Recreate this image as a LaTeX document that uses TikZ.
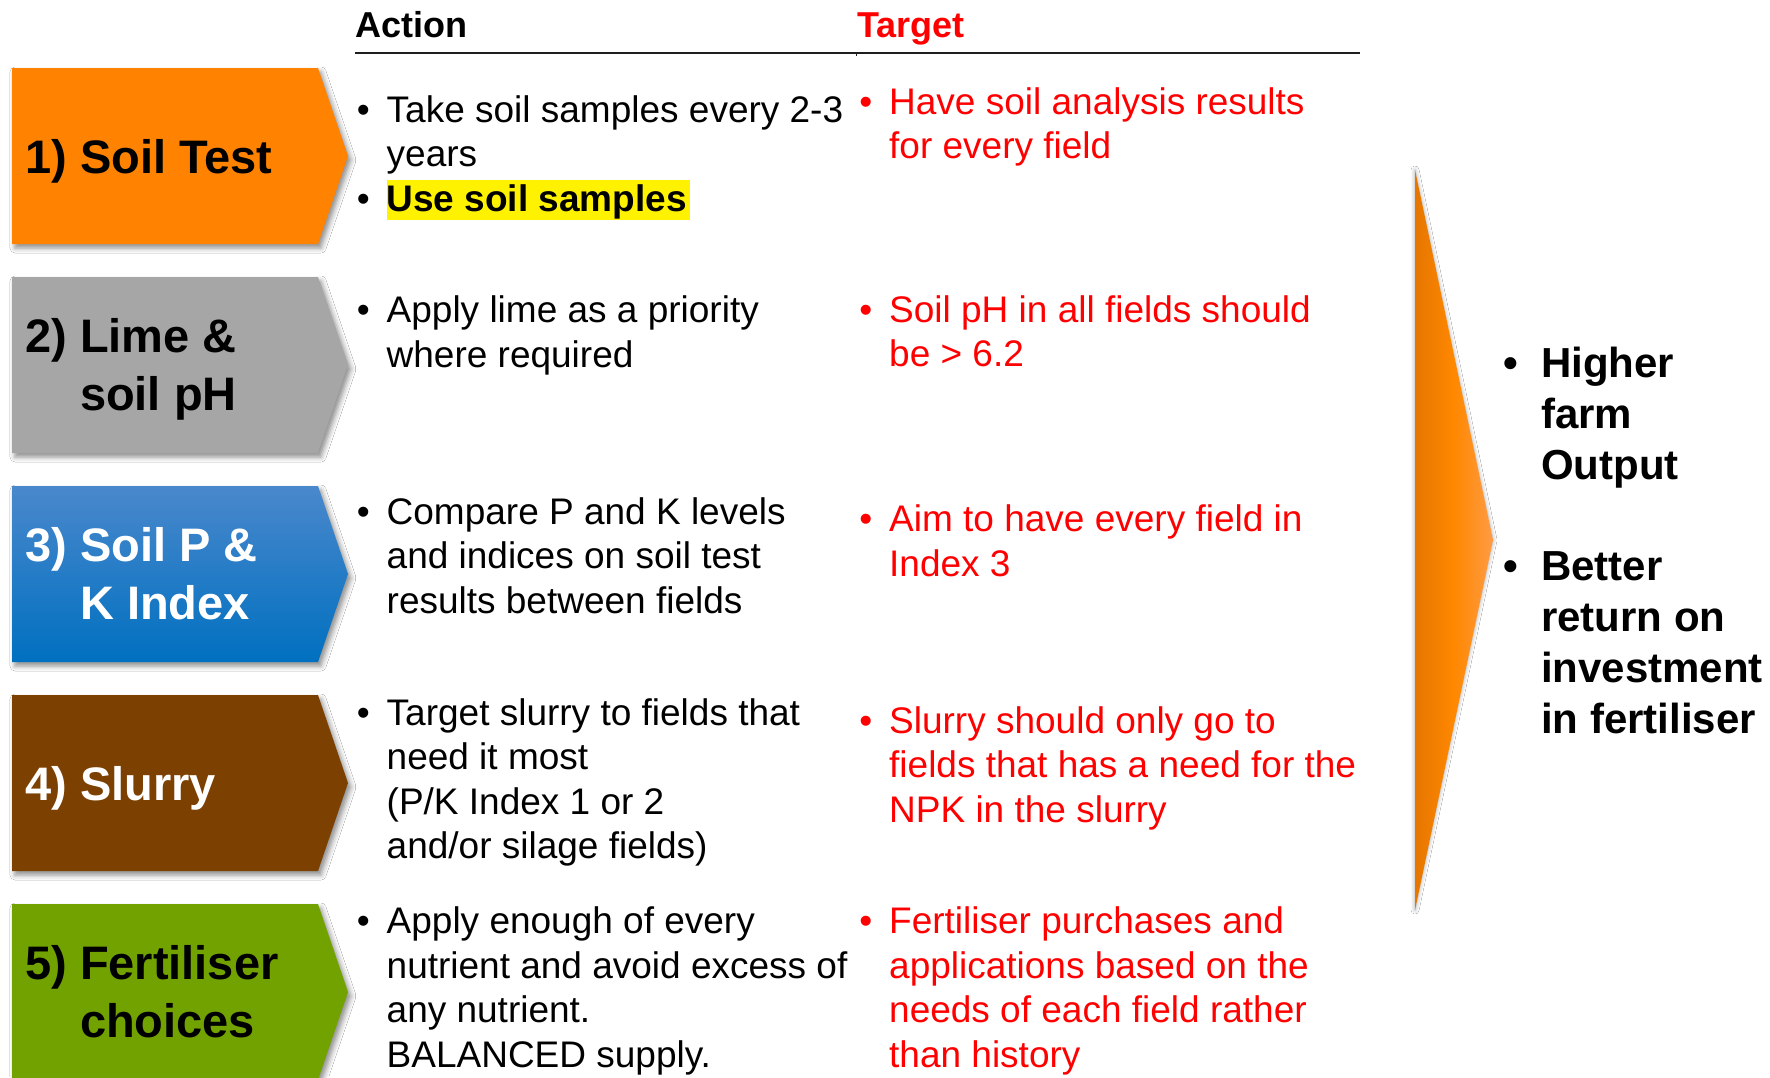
\documentclass[tikz,border=0pt]{standalone}
\usepackage{fontspec}
\setmainfont{Liberation Sans}
\usetikzlibrary{shadows.blur}

\definecolor{boxOrange}{RGB}{255,130,0}
\definecolor{boxGray}{RGB}{166,166,166}
\definecolor{boxBlueTop}{RGB}{74,136,204}
\definecolor{boxBlueBot}{RGB}{0,112,192}
\definecolor{boxBrown}{RGB}{124,64,0}
\definecolor{boxGreen}{RGB}{114,162,0}
\definecolor{tgtRed}{RGB}{255,0,0}
\definecolor{arrDark}{RGB}{230,118,0}
\definecolor{arrMid}{RGB}{255,136,0}
\definecolor{arrLight}{RGB}{255,155,70}
\definecolor{ruleGray}{RGB}{30,30,30}

% stacked lines whose baseline is the first line
\newcommand\rows[1]{\begin{tabular}[t]{@{}l@{}}#1\end{tabular}}
% hanging bullet in front of a line
\newcommand\bul[1][17pt]{\llap{•\hspace{#1}}}
% yellow highlighted phrase
\newcommand\hlite[1]{{\setlength\fboxsep{0pt}\colorbox{yellow}{\rule[-9pt]{0pt}{40pt}#1\hspace{3pt}}}}

\tikzset{
  chevron/.style={blur shadow={shadow xshift=3pt, shadow yshift=-4pt,
      shadow blur radius=5pt, shadow opacity=45}},
  label/.style={anchor=base west, inner sep=0pt,
      font=\bfseries\fontsize{47}{57.6}\selectfont},
  act/.style={anchor=base west, inner sep=0pt,
      font=\fontsize{37}{44.5}\selectfont},
  tgt/.style={act, text=tgtRed},
  head/.style={anchor=base west, inner sep=0pt,
      font=\bfseries\fontsize{36}{43}\selectfont},
  result/.style={anchor=base west, inner sep=0pt,
      font=\bfseries\fontsize{42}{51.3}\selectfont},
}

\begin{document}
\begin{tikzpicture}[x=1pt,y=-1pt]
\fill[white] (0,0) rectangle (1770,1077);
\clip (0,0) rectangle (1770,1077);

% header
\node[head] (hAct) at (355,37) {Action};
\node[head, text=tgtRed] (hTgt) at (857,37) {Target};
\coordinate (rA) at (355,53);
\coordinate (rM) at (856,53);
\coordinate (rB) at (1360,53);
\draw[ruleGray, line width=2.4pt] (rA) -- (rM) -- (rB);
\draw[ruleGray, line width=1pt] (rM) -- ++(0,2.5);

% step chevrons
\path[chevron, fill=boxOrange] (12,68) -- (318,68) -- (348,156) -- (318,244) -- (12,244) -- cycle;
\path[chevron, fill=boxGray] (12,277) -- (318,277) -- (348,365) -- (318,453) -- (12,453) -- cycle;
\path[chevron, top color=boxBlueTop, bottom color=boxBlueBot] (12,486) -- (318,486) -- (348,574) -- (318,662) -- (12,662) -- cycle;
\path[chevron, fill=boxBrown] (12,695) -- (318,695) -- (348,783) -- (318,871) -- (12,871) -- cycle;
\path[chevron, fill=boxGreen] (12,904) -- (318,904) -- (348,992) -- (318,1080) -- (12,1080) -- cycle;

% step labels
\node[label] (s1) at (25,173) {1) Soil Test};
\node[label] (s2) at (25,352.7) {\rows{2) Lime \&\\\phantom{2)} soil pH}};
\node[label, text=white] (s3) at (25,561.7) {\rows{3) Soil P \&\\\phantom{3)} K Index}};
\node[label, text=white] (s4) at (25,800) {4) Slurry};
\node[label] (s5) at (25,979.7) {\rows{5) Fertiliser\\\phantom{5)} choices}};

% actions
\node[act] (a1) at (386.5,122) {\rows{\bul Take soil samples every 2-3\\years\\\bul\hlite{\bfseries Use soil samples}}};
\node[act] (a2) at (386.5,322.7) {\rows{\bul Apply lime as a priority\\where required}};
\node[act] (a3) at (386.5,524.3) {\rows{\bul Compare P and K levels\\and indices on soil test\\results between fields}};
\node[act] (a4) at (386.5,725) {\rows{\bul Target slurry to fields that\\need it most\\(P/K Index 1 or 2\\and/or silage fields)}};
\node[act] (a5) at (386.5,933.5) {\rows{\bul Apply enough of every\\nutrient and avoid excess of\\any nutrient.\\BALANCED supply.}};

% targets
\node[tgt] (t1) at (889,114) {\rows{\bul Have soil analysis results\\for every field}};
\node[tgt] (t2) at (889,322) {\rows{\bul Soil pH in all fields should\\be > 6.2}};
\node[tgt] (t3) at (889,531.7) {\rows{\bul Aim to have every field in\\Index 3}};
\node[tgt] (t4) at (889,733.3) {\rows{\bul Slurry should only go to\\fields that has a need for the\\NPK in the slurry}};
\node[tgt] (t5) at (889,933.5) {\rows{\bul Fertiliser purchases and\\applications based on the\\needs of each field rather\\than history}};

% outcome arrow
\path[blur shadow={shadow xshift=0pt, shadow yshift=0pt, shadow blur radius=4pt, shadow opacity=35},
      left color=arrDark, right color=arrLight, middle color=arrMid]
  (1415,170) -- (1493,540) -- (1415,910) -- cycle;

% outcomes
\node[result] (o1) at (1541,377) {\rows{\bul[22.7pt]Higher\\farm\\Output}};
\node[result] (o2) at (1541,580) {\rows{\bul[22.7pt]Better\\return on\\investment\\in fertiliser}};
\end{tikzpicture}
\end{document}
